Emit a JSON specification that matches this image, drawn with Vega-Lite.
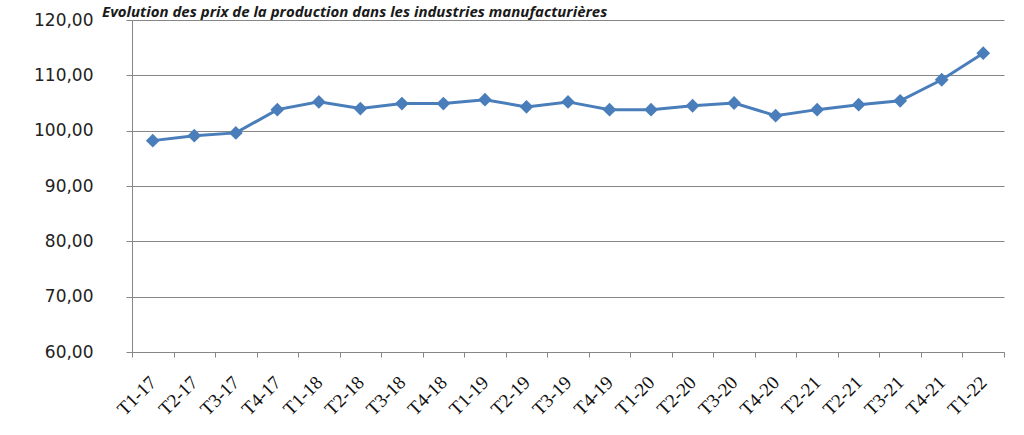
{
  "$schema": "https://vega.github.io/schema/vega-lite/v6.json",
  "autosize": {"type": "none"},
  "width": 872,
  "height": 332,
  "padding": {"left": 132, "top": 20, "right": 20, "bottom": 83},
  "background": "white",
  "title": {
    "text": "Evolution des prix de la production dans les industries manufacturières",
    "anchor": "start",
    "frame": "group",
    "font": "Open Sans",
    "fontSize": 15,
    "fontWeight": "bold",
    "fontStyle": "italic",
    "color": "#1a1a1a",
    "baseline": "alphabetic",
    "offset": -21,
    "dx": -30
  },
  "config": {
    "view": {"stroke": null},
    "axis": {"domainColor": "#868686", "tickColor": "#868686", "gridColor": "#868686", "gridOpacity": 1}
  },
  "data": {
    "values": [
      {"trimestre": "T1-17", "indice": 98.2},
      {"trimestre": "T2-17", "indice": 99.1},
      {"trimestre": "T3-17", "indice": 99.6},
      {"trimestre": "T4-17", "indice": 103.8},
      {"trimestre": "T1-18", "indice": 105.2},
      {"trimestre": "T2-18", "indice": 104.0},
      {"trimestre": "T3-18", "indice": 104.9},
      {"trimestre": "T4-18", "indice": 104.9},
      {"trimestre": "T1-19", "indice": 105.6},
      {"trimestre": "T2-19", "indice": 104.3},
      {"trimestre": "T3-19", "indice": 105.2},
      {"trimestre": "T4-19", "indice": 103.8},
      {"trimestre": "T1-20", "indice": 103.8},
      {"trimestre": "T2-20", "indice": 104.5},
      {"trimestre": "T3-20", "indice": 105.0},
      {"trimestre": "T4-20", "indice": 102.7},
      {"trimestre": "T2-21", "indice": 103.8},
      {"trimestre": "T2-21 ", "indice": 104.7},
      {"trimestre": "T3-21", "indice": 105.4},
      {"trimestre": "T4-21", "indice": 109.2},
      {"trimestre": "T1-22", "indice": 114.0}
    ]
  },
  "encoding": {
    "x": {
      "field": "trimestre",
      "type": "ordinal",
      "sort": null,
      "scale": {"paddingInner": 0, "paddingOuter": 0},
      "axis": {
        "title": null,
        "tickBand": "extent",
        "tickSize": 5,
        "labelAngle": -45,
        "labelAlign": "right",
        "labelBaseline": "middle",
        "labelPadding": 22,
        "labelFont": "Liberation Serif",
        "labelFontSize": 19,
        "labelColor": "#111111",
        "labelOverlap": false,
        "labelExpr": "trim(datum.label)",
        "grid": false
      }
    },
    "y": {
      "field": "indice",
      "type": "quantitative",
      "scale": {"domain": [60, 120], "nice": false, "zero": false},
      "axis": {
        "title": null,
        "values": [60, 70, 80, 90, 100, 110, 120],
        "tickSize": 6,
        "labelPadding": 33,
        "labelFont": "DejaVu Sans",
        "labelFontSize": 17,
        "labelColor": "#222222",
        "labelExpr": "replace(format(datum.value, '.2f'), '.', ',')",
        "grid": true
      }
    }
  },
  "layer": [
    {"mark": {"type": "line", "color": "#4A7EBB", "strokeWidth": 3}},
    {"mark": {"type": "point", "shape": "diamond", "filled": true, "opacity": 1, "color": "#4A7EBB", "size": 190}}
  ]
}
